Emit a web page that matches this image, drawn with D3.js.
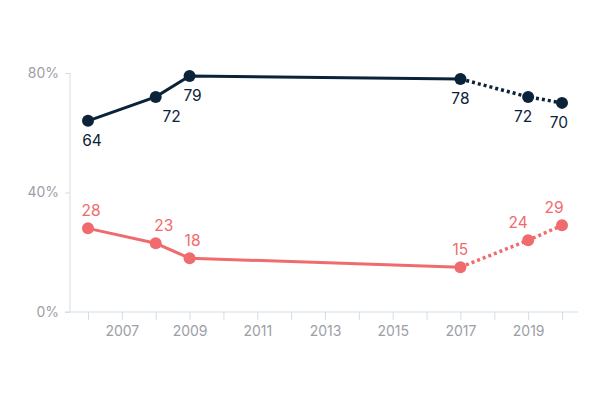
<!DOCTYPE html>
<html><head><meta charset="utf-8">
<script src="https://cdn.jsdelivr.net/npm/d3@7"></script>
<style>body{margin:0;background:#fff}svg{display:block;font-family:Inter,"Noto Sans",sans-serif}</style>
</head><body><svg id="c" width="600" height="400"></svg>
<script>
const years = [2006, 2008, 2009, 2017, 2019, 2020];
const seriesDark = [64, 72, 79, 78, 72, 70];
const seriesRed = [28, 23, 18, 15, 24, 29];
const yTicks = [0, 40, 80];
const xTickYears = d3.range(2006, 2021);
const xLabelYears = [2007, 2009, 2011, 2013, 2015, 2017, 2019];
const solidUpTo = 2017;
// label placement (layout config)
const darkLabelDx = [4, 16, 3, 0, -5, -3];
const redLabelDx = [3, 8, 3, 0, -10, -8];

const svg = d3.select("#c");
const x = d3.scaleLinear().domain([2006, 2020]).range([88, 562]);
const y = d3.scaleLinear().domain([0, 80]).range([312, 73]);
const axisCol = "#d3dde6", tickText = "#9d9ea6";

// y axis
svg.append("line").attr("x1",70).attr("x2",70).attr("y1",y(80)).attr("y2",y(0)).attr("stroke",axisCol).attr("stroke-width",1);
const yg = svg.append("g").attr("transform","translate(70,0)").call(d3.axisLeft(y).tickValues(yTicks).tickSize(5).tickPadding(6).tickFormat(d=>d+"%"));
yg.select(".domain").remove();
yg.selectAll("line").attr("stroke",axisCol);
yg.selectAll("text").attr("fill",tickText).attr("font-size",14).attr("font-family","Inter,sans-serif");

// x axis
svg.append("line").attr("x1",65).attr("x2",578).attr("y1",312).attr("y2",312).attr("stroke",axisCol);
const xg = svg.append("g").attr("transform","translate(0,312)").call(d3.axisBottom(x).tickValues(xTickYears).tickSize(8).tickPadding(6).tickFormat(d=>xLabelYears.includes(d)?String(d):""));
xg.select(".domain").remove();
xg.selectAll("line").attr("stroke",axisCol);
xg.selectAll("text").attr("fill",tickText).attr("font-size",14).attr("font-family","Inter,sans-serif");

function drawSeries(vals, color, labelDx, above){
  const pts = years.map((yr,i)=>({yr, v: vals[i], i}));
  const line = d3.line().x(d=>x(d.yr)).y(d=>y(d.v));
  const solid = pts.filter(p=>p.yr<=solidUpTo);
  const dotted = pts.filter(p=>p.yr>=solidUpTo);
  svg.append("path").attr("d",line(solid)).attr("fill","none").attr("stroke",color).attr("stroke-width",3);
  svg.append("path").attr("d",line(dotted)).attr("fill","none").attr("stroke",color).attr("stroke-width",3.5).attr("stroke-dasharray","3 3");
  svg.selectAll(null).data(pts).enter().append("circle").attr("cx",d=>x(d.yr)).attr("cy",d=>y(d.v)).attr("r",6).attr("fill",color);
  svg.selectAll(null).data(pts).enter().append("text")
    .attr("x",d=>x(d.yr)+labelDx[d.i]).attr("y",d=>y(d.v)+(above?-12:25))
    .attr("text-anchor","middle").attr("font-size",15.5).attr("fill",color).text(d=>d.v);
}
drawSeries(seriesDark, "#0b2338", darkLabelDx, false);
drawSeries(seriesRed, "#f06b6d", redLabelDx, true);
</script></body></html>
